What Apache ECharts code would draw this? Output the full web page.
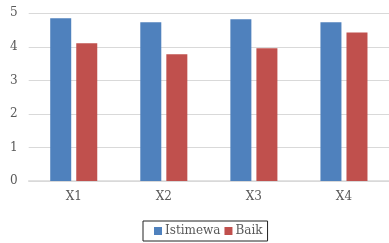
<!DOCTYPE html>
<html>
<head>
<meta charset="utf-8">
<script src="https://cdn.jsdelivr.net/npm/echarts@6/dist/echarts.min.js"></script>
<style>
html, body { margin: 0; padding: 0; background: #fff; }
#chart { width: 389px; height: 243px; }
</style>
</head>
<body>
<div id="chart"></div>
<script>
var categories = ['X1', 'X2', 'X3', 'X4'];
var istimewa = [4.85, 4.73, 4.82, 4.73];
var baik = [4.11, 3.78, 3.96, 4.43];
var yTicks = [0, 1, 2, 3, 4, 5];

let myChart = echarts.init(document.getElementById('chart'));
var font = 'DejaVu Serif';

var option = {
    animation: false,
    grid: {
        left: 28.7,
        top: 13.3,
        width: 366.7,
        height: 167.7
    },
    legend: {
        data: ['Istimewa', 'Baik'],
        left: 143,
        top: 221,
        width: 125,
        height: 20,
        padding: [4, 5, 4, 11],
        borderColor: '#222',
        borderWidth: 1,
        itemWidth: 8,
        itemHeight: 8,
        itemGap: 4,
        icon: 'rect',
        textStyle: {
            fontFamily: font,
            fontSize: 12,
            color: '#595959',
            padding: [0, 0, 0, -2]
        }
    },
    xAxis: {
        type: 'category',
        data: categories,
        axisLine: { lineStyle: { color: '#d9d9d9', width: 1.5 } },
        axisTick: { show: false },
        axisLabel: {
            fontFamily: font,
            fontSize: 12,
            color: '#595959',
            margin: 10
        }
    },
    yAxis: {
        type: 'value',
        min: yTicks[0],
        max: yTicks[yTicks.length - 1],
        interval: 1,
        axisLine: { show: false },
        axisTick: { show: false },
        splitLine: { lineStyle: { color: '#d9d9d9', width: 1 } },
        axisLabel: {
            fontFamily: font,
            fontSize: 12,
            color: '#595959',
            margin: 11
        }
    },
    series: [{
        name: 'Istimewa',
        type: 'bar',
        data: istimewa,
        barWidth: 21,
        barGap: '24%',
        itemStyle: { color: '#4f81bd' }
    }, {
        name: 'Baik',
        type: 'bar',
        data: baik,
        barWidth: 21,
        itemStyle: { color: '#c0504d' }
    }]
};

myChart.setOption(option);
</script>
</body>
</html>
